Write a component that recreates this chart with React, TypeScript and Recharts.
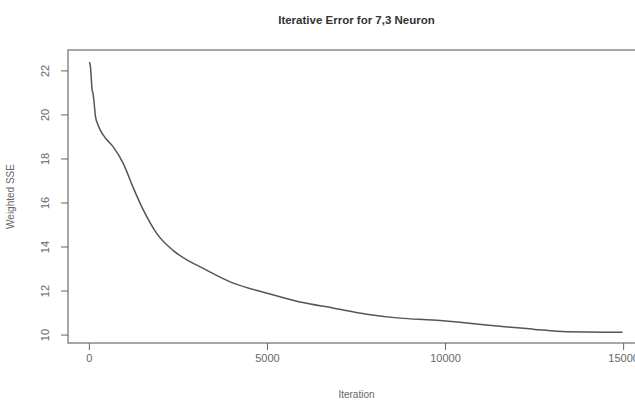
import React from "react";
import {
  LineChart,
  Line,
  XAxis,
  YAxis,
  ReferenceArea,
} from "recharts";

// values
const iterations = [
  0, 30, 60, 80, 100, 130, 170, 230, 310, 450, 670, 950, 1230, 1510, 1900,
  2350, 2750, 3110, 4040, 4990, 5915, 6840, 7790, 8720, 9640, 10600, 11520,
  12450, 13400, 14970,
];
const weightedSse = [
  22.4, 22.2, 21.5, 21.1, 21.0, 20.6, 19.95, 19.6, 19.3, 18.95, 18.55, 17.8,
  16.7, 15.7, 14.6, 13.85, 13.4, 13.1, 12.36, 11.9, 11.5, 11.23, 10.95, 10.77,
  10.68, 10.55, 10.4, 10.27, 10.15, 10.13,
];
const xTicks = [0, 5000, 10000, 15000];
const yTicks = [10, 12, 14, 16, 18, 20, 22];
const xDomain = [-600, 15600];
const yDomain = [9.64, 22.95];

const chartData = iterations.map((it, i) => ({ it, sse: weightedSse[i] }));

const FONT = "'Liberation Sans', Arial, sans-serif";
const INK = "#666";

const YTick = (props: any) => {
  const { x, y, payload } = props;
  return (
    <text
      x={x - 10}
      y={y}
      transform={`rotate(-90, ${x - 10}, ${y})`}
      textAnchor="middle"
      fontSize={11}
      fill={INK}
      fontFamily={FONT}
    >
      {payload.value}
    </text>
  );
};

const App = () => {
  return (
    <div
      style={{
        position: "absolute",
        left: 0,
        top: 0,
        width: 635,
        height: 400,
        overflow: "hidden",
        background: "#fff",
      }}
    >
      <div
        style={{
          position: "absolute",
          top: 14,
          left: 68,
          width: 577,
          textAlign: "center",
          fontFamily: FONT,
          fontWeight: "bold",
          fontSize: 11.5,
          color: "#333",
        }}
      >
        Iterative Error for 7,3 Neuron
      </div>
      <LineChart
        width={660}
        height={400}
        data={chartData}
        margin={{ top: 50, right: 15, left: 0, bottom: 0 }}
      >
        <XAxis
          dataKey="it"
          type="number"
          domain={xDomain}
          ticks={xTicks}
          allowDataOverflow
          axisLine={false}
          tickSize={7}
          tickMargin={4}
          height={57}
          tickLine={{ stroke: INK }}
          tick={{ fontSize: 11, fill: INK, fontFamily: FONT }}
          label={{
            value: "Iteration",
            position: "insideBottom",
            offset: 2,
            fontSize: 10,
            fill: INK,
            fontFamily: FONT,
          }}
        />
        <YAxis
          type="number"
          domain={yDomain}
          ticks={yTicks}
          allowDataOverflow
          axisLine={false}
          tickSize={7}
          width={68}
          tickLine={{ stroke: INK }}
          tick={<YTick />}
          label={{
            value: "Weighted SSE",
            angle: -90,
            position: "insideLeft",
            offset: 10,
            style: { textAnchor: "middle" },
            fontSize: 10,
            fill: INK,
            fontFamily: FONT,
          }}
        />
        <ReferenceArea
          x1={xDomain[0]}
          x2={xDomain[1]}
          y1={yDomain[0]}
          y2={yDomain[1]}
          fill="none"
          stroke="#8a8a8a"
          strokeWidth={1.5}
          ifOverflow="visible"
        />
        <Line
          type="monotone"
          dataKey="sse"
          stroke="#555"
          strokeWidth={1.5}
          dot={false}
          isAnimationActive={false}
        />
      </LineChart>
    </div>
  );
};

export default App;
